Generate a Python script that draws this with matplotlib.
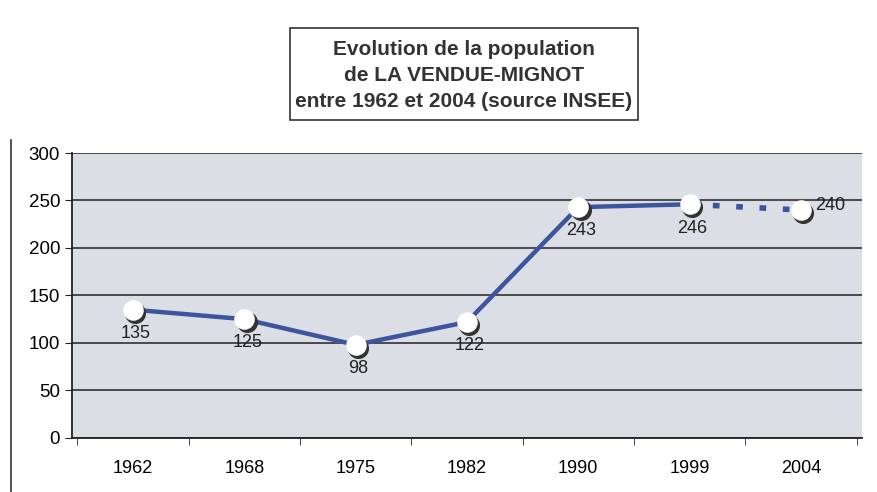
import numpy as np
import matplotlib
matplotlib.use("Agg")
from matplotlib import pyplot as plt
from matplotlib.patches import Rectangle

years = ['1962', '1968', '1975', '1982', '1990', '1999', '2004']
population = [135, 125, 98, 122, 243, 246, 240]
title = "Evolution de la population\nde LA VENDUE-MIGNOT\nentre 1962 et 2004 (source INSEE)"

plt.rcParams['font.family'] = ['Liberation Sans', 'DejaVu Sans']

line_color = '#3d559e'

fig = plt.figure(figsize=(8.77, 4.92), dpi=100)
ax = fig.add_axes([0.082, 0.110, 0.901, 0.579])
ax.set_facecolor('#dcdee6')

x = np.arange(len(years))
# solid part up to 1999, dashed last segment
ax.plot(x[:-1], population[:-1], color=line_color, lw=3.2, zorder=3)
ax.plot(x[-2:], population[-2:], color=line_color, lw=4, ls=(0, (1.2, 3)), zorder=3)

# shaded white markers
ax.scatter(x + 0.02, np.array(population) - 3, s=200, color='#333333', zorder=4)
ax.scatter(x, population, s=190, color='white', zorder=5)

for i, v in enumerate(population):
    if i == len(population) - 1:
        ax.annotate(str(v), (x[i], v), xytext=(10, 3), textcoords='offset points',
                    fontsize=13, color='#222222', ha='left', va='center', zorder=6)
    else:
        ax.annotate(str(v), (x[i], v), xytext=(2, -11), textcoords='offset points',
                    fontsize=13, color='#222222', ha='center', va='top', zorder=6)

ax.set_xlim(-0.55, len(years) - 0.45)
ax.set_ylim(0, 300)
ax.set_yticks(range(0, 301, 50))
ax.yaxis.grid(True, color='#222222', lw=1.1)
ax.set_axisbelow(True)
ax.set_xticks(x)
ax.set_xticklabels(years, fontsize=13)
ax.set_xticks(np.arange(len(years) + 1) - 0.5, minor=True)
ax.tick_params(axis='x', which='major', length=0, pad=16)
ax.tick_params(axis='x', which='minor', length=5, direction='out', color='#222222')
ax.tick_params(axis='y', length=5, direction='out', labelsize=13.5, color='#222222')
for s in ['top', 'right']:
    ax.spines[s].set_visible(False)
for s in ['left', 'bottom']:
    ax.spines[s].set_color('#222222')
    ax.spines[s].set_linewidth(1.3)

# title box
fig.patches.append(Rectangle((0.331, 0.756), 0.396, 0.187, transform=fig.transFigure,
                             fill=False, edgecolor='#333333', lw=1.2))
fig.text(0.529, 0.847, title, ha='center', va='center', fontsize=15,
         fontweight='bold', color='#333333', linespacing=1.45)

# left page frame line
fig.add_artist(plt.Line2D([0.012, 0.012], [0.0, 0.715], transform=fig.transFigure,
                          color='#333333', lw=1.2))

fig.savefig('out.png', dpi=100, facecolor='white')
